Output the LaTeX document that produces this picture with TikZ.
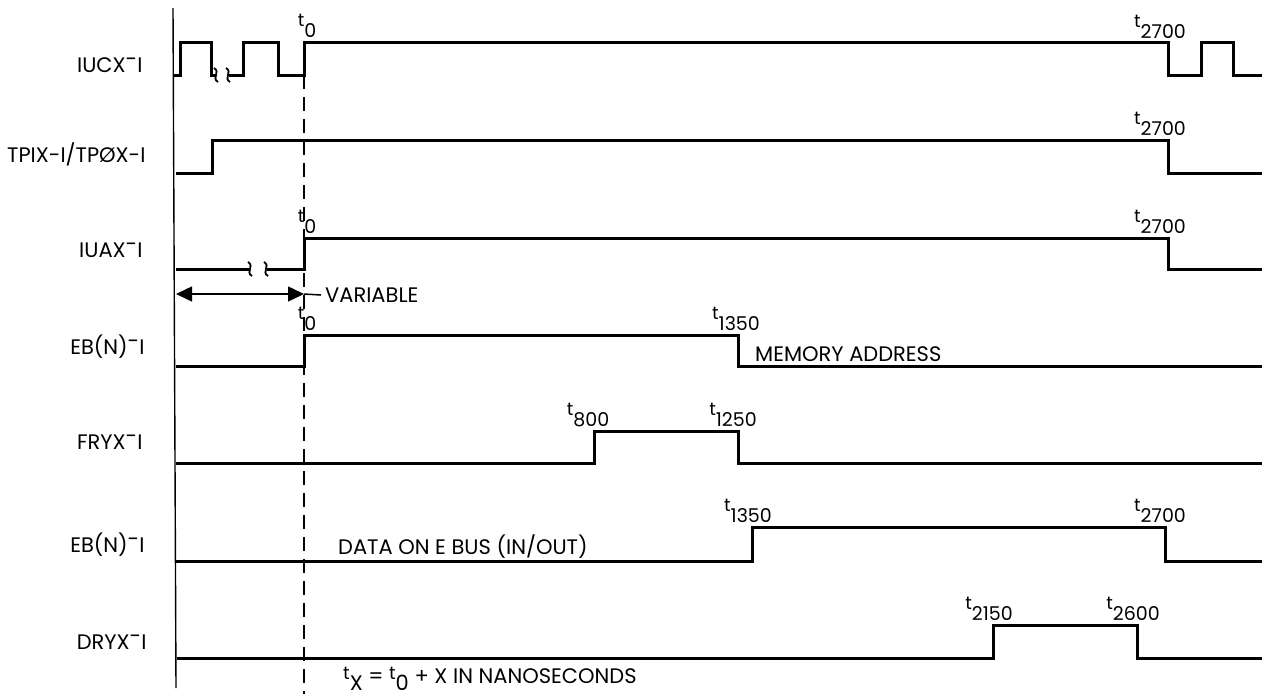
\documentclass[tikz,border=0pt]{standalone}
\usepackage{fontspec}
\setmainfont{Poppins}
\usetikzlibrary{arrows.meta}

\newcommand\tsub[1]{\raisebox{11pt}{\fontsize{18}{18}\selectfont t}#1}
\newcommand\rdash{\raisebox{6pt}{-}}
\newcommand\brk[2]{\draw[line width=1.8pt] (#1-2,#2-7) .. controls (#1+5,#2-3) and (#1-5,#2+3) .. (#1+2,#2+7);}

\begin{document}
\begin{tikzpicture}[x=1pt,y=-1pt,
  wave/.style={line width=3pt,line join=miter},
  sig/.style={anchor=east,font=\fontsize{21}{21}\selectfont},
  tmark/.style={anchor=base,font=\fontsize{19}{19}\selectfont,inner sep=0pt},
  note/.style={anchor=base west,font=\fontsize{21}{21}\selectfont,inner sep=0pt}]
  \useasboundingbox (0,0) rectangle (1262,696);

  % time axis and t0 marker
  \draw[line width=1.4pt] (173,8) -- (176,688);
  \draw[line width=1.4pt,dash pattern=on 14pt off 8pt] (304,75) -- (304,694);

  % signal names
  \node[sig] (nIUCX) at (146,65) {IUCX\rdash I};
  \node[sig] (nTPIX) at (149,154) {TPIX-I/TPØX-I};
  \node[sig] (nIUAX) at (146,250) {IUAX\rdash I};
  \node[sig] (nEBa)  at (148,347) {EB(N)\rdash I};
  \node[sig] (nFRYX) at (146,442) {FRYX\rdash I};
  \node[sig] (nEBb)  at (148,545) {EB(N)\rdash I};
  \node[sig] (nDRYX) at (150,642) {DRYX\rdash I};

  % IUCX-I
  \draw[wave] (173,75) -- (180,75) -- (180,42) -- (211,42) -- (211,75) -- (215,75);
  \brk{216}{75}
  \brk{228}{75}
  \draw[wave] (229,75) -- (243,75) -- (243,42) -- (278,42) -- (278,75) -- (304,75)
    -- (304,42) -- (1168,42) -- (1168,75) -- (1201,75) -- (1201,42) -- (1233,42)
    -- (1233,75) -- (1262,75);
  \node[tmark] (iucxA) at (307,37) {\tsub{0}};
  \node[tmark] (iucxB) at (1160,38) {\tsub{2700}};

  % TPIX-I/TPOX-I
  \draw[wave] (176,173) -- (212,173) -- (212,140) -- (1168,140) -- (1168,173) -- (1262,173);
  \node[tmark] (tpixA) at (1160,135) {\tsub{2700}};

  % IUAX-I
  \draw[wave] (176,269) -- (249,269);
  \brk{250}{269}
  \brk{266}{269}
  \draw[wave] (267,269) -- (304,269) -- (304,238) -- (1168,238) -- (1168,269) -- (1262,269);
  \node[tmark] (iuaxA) at (307,233) {\tsub{0}};
  \node[tmark] (iuaxB) at (1160,233) {\tsub{2700}};

  % variable delay
  \coordinate (varL) at (176,294);
  \coordinate (varR) at (304,294);
  \draw[line width=1.5pt,{Triangle[length=16pt,width=15pt]}-{Triangle[length=16pt,width=15pt]}] (varL) -- (varR);
  \node[note,anchor=west,inner sep=4pt] (var) at (321,295) {VARIABLE};
  \draw[line width=1.5pt] (varR) -- (var.west);

  % EB(N)-I  (memory address)
  \draw[wave] (176,366) -- (304,366) -- (304,335) -- (738,335) -- (738,366) -- (1262,366);
  \node[tmark] (ebaA) at (307,330) {\tsub{0}};
  \node[tmark] (ebaB) at (736,330) {\tsub{1350}};
  \node[note] (mem) at (755,361) {MEMORY ADDRESS};

  % FRYX-I
  \draw[wave] (176,463) -- (594,463) -- (594,431) -- (738,431) -- (738,463) -- (1262,463);
  \node[tmark] (fryxA) at (588,426) {\tsub{800}};
  \node[tmark] (fryxB) at (733,426) {\tsub{1250}};

  % EB(N)-I  (data)
  \draw[wave] (176,561) -- (752,561) -- (752,527) -- (1165,527) -- (1165,561) -- (1262,561);
  \node[tmark] (ebbA) at (748,522) {\tsub{1350}};
  \node[tmark] (ebbB) at (1160,522) {\tsub{2700}};
  \node[note] (data) at (338,554) {DATA ON E BUS (IN/OUT)};

  % DRYX-I
  \draw[wave] (177,658) -- (993,658) -- (993,625) -- (1137,625) -- (1137,658) -- (1262,658);
  \node[tmark] (dryxA) at (989,620) {\tsub{2150}};
  \node[tmark] (dryxB) at (1133,620) {\tsub{2600}};

  % time base note
  \node[note] (tx) at (343,690) {\tsub{X} \raisebox{7pt}{=} \tsub{0} \raisebox{7pt}{+ X IN NANOSECONDS}};

\end{tikzpicture}
\end{document}
